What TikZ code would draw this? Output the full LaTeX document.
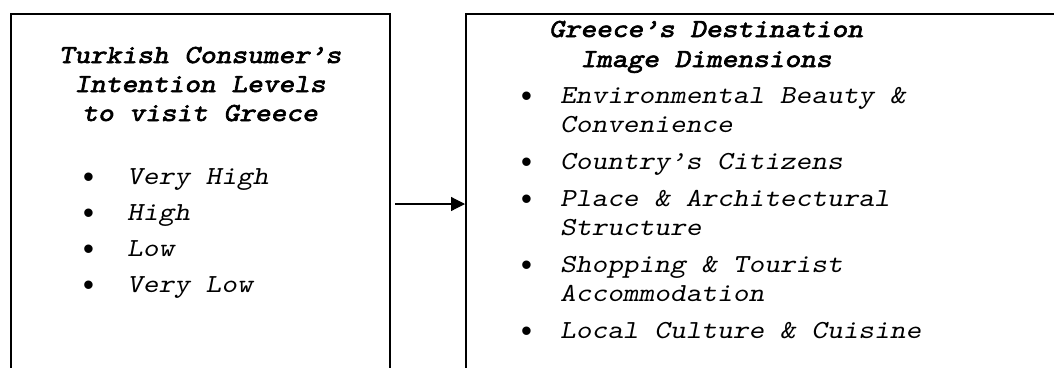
\documentclass[tikz,border=0pt]{standalone}
\usepackage{fontspec}
\newfontfamily\bulfont{Liberation Sans}
\newfontfamily\courit[FakeStretch=1.15]{lmmonoslant10-regular.otf}
\newfontfamily\courbi[FakeStretch=1.15,FakeBold=2.5]{lmmonoslant10-regular.otf}
\usetikzlibrary{arrows.meta}
\tikzset{
  x=1pt,y=-1pt,
  boxframe/.style={draw=black,line width=1.6pt,inner sep=0pt,anchor=north west},
  txt/.style={inner sep=0pt,font=\courit\fontsize{26}{29}\selectfont},
  head/.style={inner sep=0pt,font=\courbi\fontsize{26}{29}\selectfont,anchor=base},
  item/.style={txt,anchor=base west},
  bul/.style={inner sep=0pt,anchor=base west,font=\bulfont\fontsize{31}{29}\selectfont},
  conn/.style={line width=1.2pt,-{Triangle[length=14pt,width=14pt]}}
}
\begin{document}
\begin{tikzpicture}
\useasboundingbox (0,0) rectangle (1054,367);
\clip (0,0) rectangle (1054,367);
\fill[white] (0,0) rectangle (1054,367);
% boxes
\node[boxframe,minimum width=379pt,minimum height=420pt] (lbox) at (10,13) {};
\node[boxframe,minimum width=640pt,minimum height=420pt] (rbox) at (465,13) {};
% left heading
\node[head] (lh1) at (200,63) {Turkish Consumer’s};
\node[head] (lh2) at (200,92) {Intention Levels};
\node[head] (lh3) at (200,121) {to visit Greece};
% left bullets
\node[bul] (lb1) at (83,187) {•};
\node[item] (li1) at (127,184) {Very High};
\node[bul] (lb2) at (83,223) {•};
\node[item] (li2) at (127,220) {High};
\node[bul] (lb3) at (83,259) {•};
\node[item] (li3) at (127,256) {Low};
\node[bul] (lb4) at (83,295) {•};
\node[item] (li4) at (127,292) {Very Low};
% right heading
\node[head] (rh1) at (706,37) {Greece’s Destination};
\node[head] (rh2) at (706,67) {Image Dimensions};
% right bullets
\node[bul] (rb1) at (521,106) {•};
\node[item] (ri1a) at (560,103) {Environmental Beauty \&};
\node[item] (ri1b) at (560,132) {Convenience};
\node[bul] (rb2) at (521,172) {•};
\node[item] (ri2) at (560,169) {Country’s Citizens};
\node[bul] (rb3) at (521,209) {•};
\node[item] (ri3a) at (560,206) {Place \& Architectural};
\node[item] (ri3b) at (560,235) {Structure};
\node[bul] (rb4) at (521,275) {•};
\node[item] (ri4a) at (560,272) {Shopping \& Tourist};
\node[item] (ri4b) at (560,301) {Accommodation};
\node[bul] (rb5) at (521,341) {•};
\node[item] (ri5) at (560,338) {Local Culture \& Cuisine};
% connector
\coordinate (astart) at (395,204);
\draw[conn] (astart) -- (astart -| rbox.west);
\end{tikzpicture}
\end{document}
